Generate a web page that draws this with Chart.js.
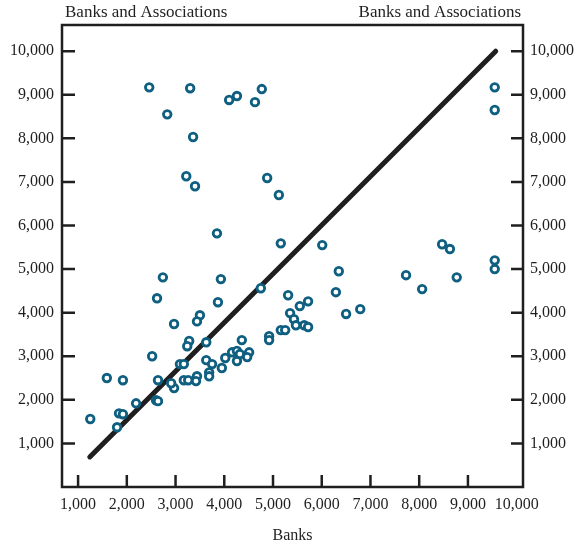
<!DOCTYPE html>
<html>
<head>
<meta charset="utf-8">
<script src="https://cdn.jsdelivr.net/npm/chart.js@4"></script>
<style>
  html, body { margin: 0; padding: 0; background: #fff; }
</style>
</head>
<body>
<canvas id="chart" width="581" height="542"></canvas>
<script>
// values: x = banks, y = banks and associations
const banks = [
  2460, 3300, 2830, 3360, 4100, 4260, 4630, 4770, 3220, 3400, 4880, 5120,
  3850, 2740, 3930, 2620, 3870, 4750, 2970, 3500, 3440,
  5160, 6010, 6350, 6290, 5310, 5550, 5720, 5350, 5430, 5470, 5640, 5720,
  5160, 5250, 4920, 4920, 6500, 6790, 7730, 8060, 8470, 8630, 8770,
  9550, 9550, 9550, 9550,
  4360, 3630, 3280, 3240, 2520, 3090, 3170, 3630, 3750, 4020, 4160, 4260,
  4320, 4510, 4470, 4260, 3950, 3690, 3690, 3440,
  1590, 1920, 2640, 2970, 2910, 3170, 3260, 3420,
  2190, 2600, 2640, 1840, 1920, 1800, 1250
];
const associations = [
  9170, 9150, 8550, 8030, 8880, 8970, 8830, 9130, 7130, 6900, 7090, 6700,
  5820, 4810, 4770, 4330, 4240, 4560, 3740, 3940, 3800,
  5590, 5550, 4950, 4470, 4400, 4150, 4260, 3990, 3850, 3710, 3710, 3670,
  3600, 3600, 3460, 3370, 3970, 4080, 4860, 4540, 5570, 5460, 4810,
  5200, 5000, 9170, 8650,
  3370, 3320, 3350, 3230, 3000, 2820, 2820, 2910, 2820, 2960, 3090, 3120,
  3050, 3090, 2980, 2890, 2730, 2630, 2540, 2540,
  2500, 2450, 2450, 2270, 2380, 2450, 2450, 2430,
  1920, 1990, 1970, 1690, 1670, 1370, 1560
];
const lineBanks = [1240, 9570];
const lineAssociations = [690, 10000];

const xTicks = [1000, 2000, 3000, 4000, 5000, 6000, 7000, 8000, 9000, 10000];
const xTickMarks = [1000, 2000, 3000, 4000, 5000, 6000, 7000, 8000, 9000];
const yTicks = [1000, 2000, 3000, 4000, 5000, 6000, 7000, 8000, 9000, 10000];
const xTitle = 'Banks';
const yTitle = 'Banks and Associations';

const ink = '#1f1f1f';
const dotColor = '#0f5f80';
const serif = "'Liberation Serif', 'DejaVu Serif', serif";

Chart.defaults.font.family = serif;
Chart.defaults.color = ink;

const fmt = (v) => v.toLocaleString('en-US');

// frame, inward tick marks and the two top titles
const frame = {
  id: 'frame',
  afterDatasetsDraw(chart) {
    const { ctx, chartArea: a, scales } = chart;
    ctx.save();
    ctx.strokeStyle = ink;
    ctx.lineWidth = 2.5;
    ctx.strokeRect(a.left, a.top, a.right - a.left, a.bottom - a.top);
    ctx.beginPath();
    xTickMarks.forEach((v) => {
      const px = scales.x.getPixelForValue(v);
      ctx.moveTo(px, a.bottom);
      ctx.lineTo(px, a.bottom - 12);
    });
    yTicks.forEach((v) => {
      const py = scales.y.getPixelForValue(v);
      ctx.moveTo(a.left, py);
      ctx.lineTo(a.left + 13, py);
      ctx.moveTo(a.right, py);
      ctx.lineTo(a.right - 12, py);
    });
    ctx.stroke();

    ctx.fillStyle = ink;
    ctx.font = '17px ' + serif;
    ctx.textBaseline = 'alphabetic';
    ctx.textAlign = 'left';
    ctx.fillText(yTitle, a.left + 3, 17);
    ctx.textAlign = 'right';
    ctx.fillText(yTitle, a.right - 2, 17);
    ctx.restore();
  }
};

const yAxis = (pos, width, pad) => ({
  type: 'linear',
  position: pos,
  min: 0,
  max: 10600,
  border: { display: false },
  grid: { display: false, drawTicks: false },
  ticks: { padding: pad, font: { size: 16 }, color: ink, callback: fmt },
  afterBuildTicks: (s) => { s.ticks = yTicks.map((v) => ({ value: v })); },
  afterFit: (s) => { s.width = width; }
});

new Chart(document.getElementById('chart'), {
  type: 'scatter',
  data: {
    datasets: [
      {
        label: 'fit',
        type: 'line',
        data: lineBanks.map((x, i) => ({ x, y: lineAssociations[i] })),
        borderColor: ink,
        borderWidth: 5,
        pointRadius: 0,
        borderCapStyle: 'round',
        order: 2
      },
      {
        label: 'banks',
        data: banks.map((x, i) => ({ x, y: associations[i] })),
        pointRadius: 3.8,
        pointBorderWidth: 2.8,
        borderColor: dotColor,
        backgroundColor: '#ffffff',
        order: 1
      }
    ]
  },
  options: {
    responsive: false,
    animation: false,
    devicePixelRatio: 1,
    layout: { padding: { top: 25, left: 0, right: 0, bottom: 0 } },
    plugins: {
      legend: { display: false },
      tooltip: { enabled: false }
    },
    scales: {
      x: {
        type: 'linear',
        min: 670,
        max: 10130,
        border: { display: false },
        grid: { display: false, drawTicks: false },
        ticks: { padding: 8, font: { size: 16 }, color: ink, maxRotation: 0, callback: fmt },
        afterBuildTicks: (s) => { s.ticks = xTicks.map((v) => ({ value: v })); },
        afterFit: (s) => { s.height = 55; },
        title: { display: true, text: xTitle, font: { size: 16 }, color: ink, padding: { top: 4, bottom: -3 } }
      },
      y: yAxis('left', 62, 8),
      y2: yAxis('right', 58, 7)
    }
  },
  plugins: [frame]
});
</script>
</body>
</html>
